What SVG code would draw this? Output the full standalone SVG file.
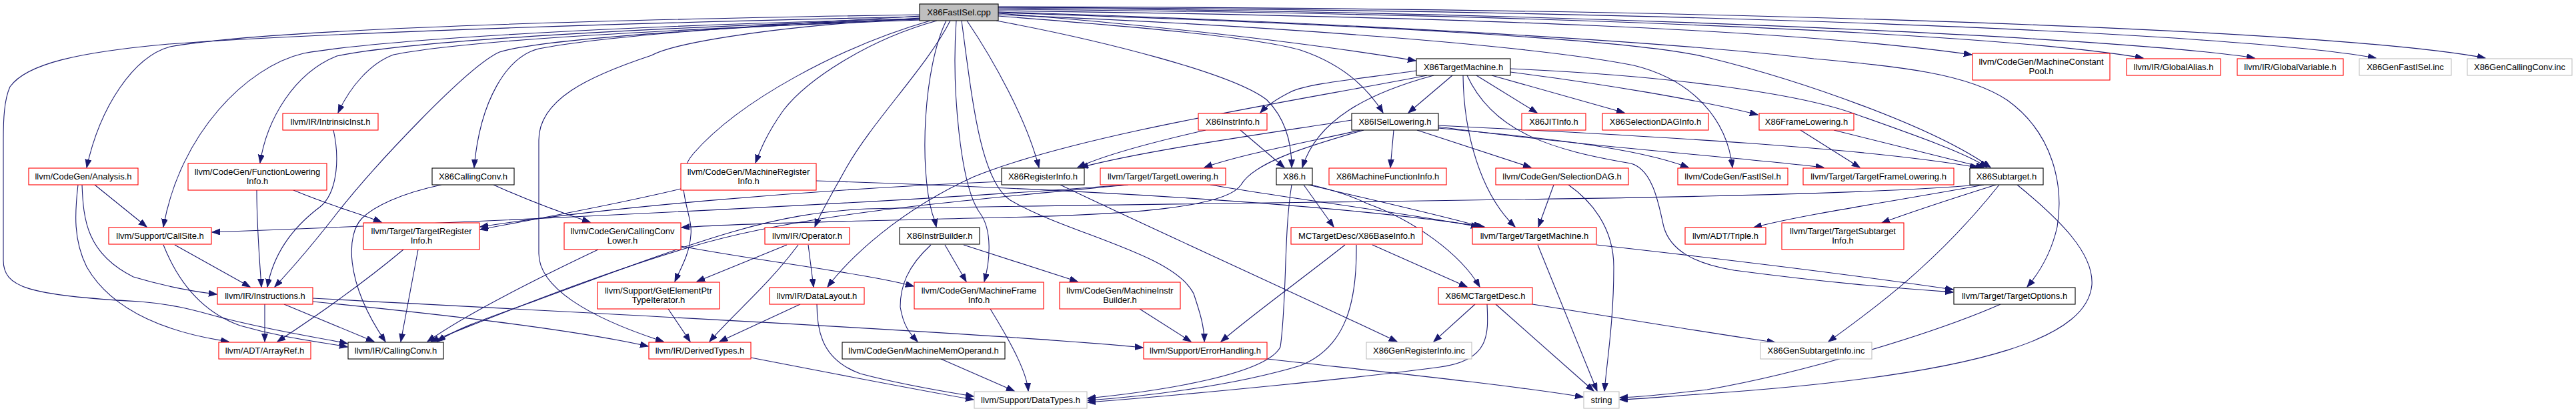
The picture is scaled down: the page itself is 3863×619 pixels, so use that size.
<svg xmlns="http://www.w3.org/2000/svg" width="3863" height="619" viewBox="0 0 3863 619">
<style>
.e path{fill:none;stroke:#191970;stroke-width:1.1;marker-end:url(#a)}
rect{fill:#fff;stroke-width:1.1}
.r rect{stroke:#ff0000}
.k rect{stroke:#000}
.g rect{stroke:#bfbfbf}
text{font-family:"Liberation Sans",Arial,sans-serif;font-size:13px;text-anchor:middle;fill:#000}
</style>
<defs>
<marker id="a" markerWidth="14" markerHeight="10" refX="12" refY="4.5" orient="auto" markerUnits="userSpaceOnUse"><path d="M0,0 L12,4.5 L0,9 z" fill="#191970" stroke="#191970" stroke-width="1"/></marker>
</defs>
<rect width="3863" height="619" style="fill:#fff;stroke:none"/>
<g id="edges" class="e">
<path d="M1379,22 C1000,28 420,40 255,70 C200,85 150,160 130,251"/>
<path d="M1379,25 C1000,33 500,48 253,66 C120,78 40,95 15,130 C6,150 5,180 5,210 L5,390 C5,430 40,443 210,452 C270,457 300,468 340,478 C420,498 480,506 521,515"/>
<path d="M1379,28 C950,38 580,58 455,80 C370,100 270,200 245,340"/>
<path d="M1379,29 C1000,40 620,60 505,84 C440,110 400,180 390,244"/>
<path d="M1380,30 C1000,44 700,60 590,82 C555,95 525,130 507,169"/>
<path d="M1380,28 C1000,45 800,62 749,78 C700,100 560,250 505,320 C470,365 440,400 412,430"/>
<path d="M1380,24 C1100,40 900,55 808,73 C760,85 720,150 711,251"/>
<path d="M1405,31 C1300,60 1210,120 1175,165 C1150,200 1140,225 1133,244"/>
<path d="M1380,27 C1150,40 1010,65 977,83 C880,115 808,150 808,210 L808,380 C808,430 880,475 995,512"/>
<path d="M1395,31 C1260,70 1110,150 1040,230 C1005,270 1040,320 1036,352 C1034,380 1022,400 1012,422"/>
<path d="M1425,31 C1390,100 1310,180 1270,250 C1245,295 1230,320 1222,340"/>
<path d="M1419,31 C1385,100 1378,250 1398,320 C1402,330 1403,335 1404,340"/>
<path d="M1434,31 C1427,133 1440,280 1470,320 C1488,345 1485,390 1476,422"/>
<path d="M1442,31 C1458,150 1470,270 1515,300 C1600,350 1760,380 1790,440 C1800,470 1806,490 1806,512"/>
<path d="M1450,31 C1490,90 1540,180 1558,251"/>
<path d="M1494,31 C1650,60 1850,110 1900,150 C1930,180 1937,220 1937,251"/>
<path d="M1497,24 C1700,40 1880,55 1950,75 C2010,95 2050,130 2074,169"/>
<path d="M1497,20 C1700,35 1950,62 2123,91"/>
<path d="M1497,22 C1900,38 2300,68 2450,98 C2540,120 2590,180 2598,251"/>
<path d="M1497,19 C2000,35 2450,58 2560,86 C2700,120 2900,190 2985,251"/>
<path d="M1497,18 C2000,33 2500,62 2720,88 C2850,100 2950,110 3010,150 C3080,200 3095,280 3085,340 C3076,380 3057,410 3040,430"/>
<path d="M1497,16 C2200,25 2700,45 2957,82"/>
<path d="M1497,14 C2300,20 3000,50 3214,87"/>
<path d="M1497,12 C2400,18 3200,58 3381,87"/>
<path d="M1497,11 C2500,15 3350,48 3563,87"/>
<path d="M1497,10 C2600,12 3500,44 3727,87"/>
<path d="M2124,106 C2040,118 1960,125 1935,138 C1915,148 1900,158 1890,169"/>
<path d="M2140,113 C1950,150 1620,200 1460,265 C1350,315 1275,385 1241,430"/>
<path d="M2178,113 L2112,169"/>
<path d="M2150,113 C2050,140 1975,180 1953,251"/>
<path d="M2214,113 L2305,169"/>
<path d="M2237,113 L2436,169"/>
<path d="M2194,113 C2195,200 2220,290 2272,340"/>
<path d="M2265,108 C2400,125 2550,150 2636,172"/>
<path d="M2265,103 C2500,113 2700,140 2785,172 C2870,202 2950,230 2980,251"/>
<path d="M2200,113 C2240,200 2330,225 2446,245 C2480,255 2488,310 2495,340 C2505,375 2540,395 2600,405 C2750,425 2850,432 2929,438"/>
<path d="M2027,180 C1900,200 1720,225 1620,251"/>
<path d="M2040,195 C1950,215 1860,232 1806,251"/>
<path d="M2045,195 C1950,222 1880,245 1861,277 C1840,310 1700,322 1500,326 C1300,331 1100,335 1022,341"/>
<path d="M2090,195 L2085,251"/>
<path d="M2125,195 L2296,251"/>
<path d="M2157,192 C2300,205 2450,220 2532,251"/>
<path d="M2157,188 C2500,205 2800,222 2966,251"/>
<path d="M2157,190 C2400,222 2600,235 2735,251"/>
<path d="M1808,195 C1720,215 1650,235 1616,251"/>
<path d="M1860,195 L1926,251"/>
<path d="M2700,195 L2789,251"/>
<path d="M2750,195 L2975,251"/>
<path d="M662,277 C600,290 560,310 543,327 C520,350 515,420 578,512"/>
<path d="M740,277 C780,295 830,315 885,333"/>
<path d="M142,277 L220,340"/>
<path d="M123,277 C125,330 130,380 200,415 C250,430 290,437 325,441"/>
<path d="M117,277 C112,320 110,360 130,400 C170,470 260,500 343,512"/>
<path d="M385,285 C385,340 390,400 392,430"/>
<path d="M440,285 C500,310 540,320 572,333"/>
<path d="M500,195 C510,240 505,290 480,310 C440,340 410,380 401,430"/>
<path d="M262,367 L375,430"/>
<path d="M245,367 C270,430 310,470 360,488 C430,508 480,512 521,520"/>
<path d="M605,374 C550,420 480,470 416,512"/>
<path d="M627,374 L601,512"/>
<path d="M397,456 L397,512"/>
<path d="M426,456 L561,512"/>
<path d="M469,452 C650,470 850,492 972,519"/>
<path d="M469,447 C900,470 1500,500 1714,521"/>
<path d="M897,374 C800,420 700,470 641,512"/>
<path d="M1021,369 C1150,393 1300,410 1370,429"/>
<path d="M1180,367 L1045,422"/>
<path d="M1212,367 L1220,430"/>
<path d="M1197,367 C1150,430 1100,470 1064,512"/>
<path d="M1002,463 L1035,512"/>
<path d="M1200,456 L1079,512"/>
<path d="M1225,456 C1225,500 1235,540 1290,560 C1350,576 1410,586 1460,594"/>
<path d="M1126,536 C1250,560 1380,585 1460,599"/>
<path d="M1021,283 C950,300 850,320 720,344"/>
<path d="M1224,271 C1600,283 2000,305 2226,340"/>
<path d="M1502,272 C1200,285 900,312 720,340"/>
<path d="M1590,277 C1700,330 1900,420 2095,512"/>
<path d="M1688,277 C1400,300 800,330 318,348"/>
<path d="M1692,277 C1450,300 1200,320 1036,370 C900,410 750,470 646,512"/>
<path d="M1815,277 C1950,300 2100,318 2218,340"/>
<path d="M1955,277 L2000,340"/>
<path d="M1966,277 C2000,285 2030,295 2050,305 C2120,330 2190,380 2219,430"/>
<path d="M1962,277 C2050,298 2150,320 2222,340"/>
<path d="M1937,277 C1925,350 1930,450 1920,520 C1900,560 1750,585 1631,597"/>
<path d="M2058,367 L2200,430"/>
<path d="M2017,367 C1950,420 1880,470 1831,512"/>
<path d="M2034,367 C2035,450 2020,520 1950,548 C1850,578 1720,594 1631,600"/>
<path d="M2212,456 L2150,512"/>
<path d="M2243,456 L2390,586"/>
<path d="M2230,456 C2232,500 2235,540 2160,550 C2050,565 1800,590 1631,603"/>
<path d="M2298,456 C2450,480 2600,505 2662,513"/>
<path d="M2306,367 L2395,586"/>
<path d="M2394,367 C2600,390 2800,415 2929,434"/>
<path d="M2330,277 L2307,340"/>
<path d="M2352,277 C2385,300 2420,340 2420,400 C2420,480 2410,540 2406,586"/>
<path d="M1900,538 C2050,555 2250,575 2374,595"/>
<path d="M2975,277 C2850,300 2700,322 2630,341"/>
<path d="M2993,277 C2920,300 2860,320 2822,334"/>
<path d="M2998,277 C2900,400 2800,470 2742,512"/>
<path d="M3025,277 C3090,330 3140,380 3137,427 C3130,500 3000,560 2560,590 C2500,594 2460,598 2429,599"/>
<path d="M2968,277 C2700,300 2000,300 1300,313 C1150,320 1050,360 800,452 C720,480 680,495 656,512"/>
<path d="M3000,456 C2900,500 2700,560 2560,584 C2500,591 2460,595 2429,596"/>
<path d="M1485,463 C1520,520 1540,560 1542,586"/>
<path d="M1417,367 L1449,422"/>
<path d="M1445,367 L1616,422"/>
<path d="M1396,367 C1360,400 1350,430 1350,460 C1355,490 1365,500 1376,512"/>
<path d="M1709,463 L1786,512"/>
<path d="M1411,538 L1521,586"/>
</g>
<g id="root" class="k"><rect x="1379" y="6" width="118" height="25" style="fill:#bfbfbf"/><text x="1438" y="23">X86FastISel.cpp</text></g>
<g id="tm" class="k"><rect x="2124" y="88" width="141" height="25"/><text x="2194.5" y="105">X86TargetMachine.h</text></g>
<g id="mcp" class="r"><rect x="2958" y="80" width="206" height="40"/><text x="3061" y="97">llvm/CodeGen/MachineConstant</text><text x="3061" y="111">Pool.h</text></g>
<g id="galias" class="r"><rect x="3189" y="88" width="141" height="25"/><text x="3259.5" y="105">llvm/IR/GlobalAlias.h</text></g>
<g id="gvar" class="r"><rect x="3355" y="88" width="159" height="25"/><text x="3434.5" y="105">llvm/IR/GlobalVariable.h</text></g>
<g id="genfast" class="g"><rect x="3538" y="88" width="138" height="25"/><text x="3607" y="105">X86GenFastISel.inc</text></g>
<g id="gencc" class="g"><rect x="3700" y="88" width="157" height="25"/><text x="3778.5" y="105">X86GenCallingConv.inc</text></g>
<g id="intr" class="r"><rect x="424" y="170" width="143" height="25"/><text x="495.5" y="187">llvm/IR/IntrinsicInst.h</text></g>
<g id="instrinfo" class="r"><rect x="1797" y="170" width="103" height="25"/><text x="1848.5" y="187">X86InstrInfo.h</text></g>
<g id="isel" class="k"><rect x="2027" y="170" width="130" height="25"/><text x="2092" y="187">X86ISelLowering.h</text></g>
<g id="jit" class="r"><rect x="2282" y="170" width="96" height="25"/><text x="2330" y="187">X86JITInfo.h</text></g>
<g id="sdaginfo" class="r"><rect x="2403" y="170" width="159" height="25"/><text x="2482.5" y="187">X86SelectionDAGInfo.h</text></g>
<g id="frame" class="r"><rect x="2638" y="170" width="142" height="25"/><text x="2709" y="187">X86FrameLowering.h</text></g>
<g id="analysis" class="r"><rect x="43" y="252" width="164" height="25"/><text x="125" y="269">llvm/CodeGen/Analysis.h</text></g>
<g id="fli" class="r"><rect x="282" y="245" width="208" height="40"/><text x="386" y="262">llvm/CodeGen/FunctionLowering</text><text x="386" y="276">Info.h</text></g>
<g id="x86cc" class="k"><rect x="648" y="252" width="123" height="25"/><text x="709.5" y="269">X86CallingConv.h</text></g>
<g id="mri" class="r"><rect x="1021" y="245" width="203" height="40"/><text x="1122.5" y="262">llvm/CodeGen/MachineRegister</text><text x="1122.5" y="276">Info.h</text></g>
<g id="x86ri" class="k"><rect x="1502" y="252" width="124" height="25"/><text x="1564" y="269">X86RegisterInfo.h</text></g>
<g id="tl" class="r"><rect x="1650" y="252" width="188" height="25"/><text x="1744" y="269">llvm/Target/TargetLowering.h</text></g>
<g id="x86h" class="k"><rect x="1914" y="252" width="54" height="25"/><text x="1941" y="269">X86.h</text></g>
<g id="mfi" class="r"><rect x="1993" y="252" width="176" height="25"/><text x="2081" y="269">X86MachineFunctionInfo.h</text></g>
<g id="sdag" class="r"><rect x="2243" y="252" width="199" height="25"/><text x="2342.5" y="269">llvm/CodeGen/SelectionDAG.h</text></g>
<g id="fastisel" class="r"><rect x="2516" y="252" width="165" height="25"/><text x="2598.5" y="269">llvm/CodeGen/FastISel.h</text></g>
<g id="tfl" class="r"><rect x="2704" y="252" width="226" height="25"/><text x="2817" y="269">llvm/Target/TargetFrameLowering.h</text></g>
<g id="subtarget" class="k"><rect x="2954" y="252" width="110" height="25"/><text x="3009" y="269">X86Subtarget.h</text></g>
<g id="callsite" class="r"><rect x="163" y="341" width="154" height="25"/><text x="240" y="358">llvm/Support/CallSite.h</text></g>
<g id="tri" class="r"><rect x="545" y="334" width="174" height="40"/><text x="632" y="351">llvm/Target/TargetRegister</text><text x="632" y="365">Info.h</text></g>
<g id="ccl" class="r"><rect x="846" y="334" width="175" height="40"/><text x="933.5" y="351">llvm/CodeGen/CallingConv</text><text x="933.5" y="365">Lower.h</text></g>
<g id="operator" class="r"><rect x="1147" y="341" width="127" height="25"/><text x="1210.5" y="358">llvm/IR/Operator.h</text></g>
<g id="instrbuilder" class="k"><rect x="1349" y="341" width="120" height="25"/><text x="1409" y="358">X86InstrBuilder.h</text></g>
<g id="baseinfo" class="r"><rect x="1936" y="341" width="197" height="25"/><text x="2034.5" y="358">MCTargetDesc/X86BaseInfo.h</text></g>
<g id="tmach" class="r"><rect x="2208" y="341" width="186" height="25"/><text x="2301" y="358">llvm/Target/TargetMachine.h</text></g>
<g id="triple" class="r"><rect x="2527" y="341" width="121" height="25"/><text x="2587.5" y="358">llvm/ADT/Triple.h</text></g>
<g id="tsi" class="r"><rect x="2672" y="334" width="183" height="40"/><text x="2763.5" y="351">llvm/Target/TargetSubtarget</text><text x="2763.5" y="365">Info.h</text></g>
<g id="instructions" class="r"><rect x="326" y="431" width="143" height="25"/><text x="397.5" y="448">llvm/IR/Instructions.h</text></g>
<g id="gep" class="r"><rect x="896" y="423" width="183" height="40"/><text x="987.5" y="440">llvm/Support/GetElementPtr</text><text x="987.5" y="454">TypeIterator.h</text></g>
<g id="dl" class="r"><rect x="1154" y="431" width="142" height="25"/><text x="1225" y="448">llvm/IR/DataLayout.h</text></g>
<g id="mframe" class="r"><rect x="1371" y="423" width="194" height="40"/><text x="1468" y="440">llvm/CodeGen/MachineFrame</text><text x="1468" y="454">Info.h</text></g>
<g id="mib" class="r"><rect x="1589" y="423" width="181" height="40"/><text x="1679.5" y="440">llvm/CodeGen/MachineInstr</text><text x="1679.5" y="454">Builder.h</text></g>
<g id="mctd" class="r"><rect x="2157" y="431" width="141" height="25"/><text x="2227.5" y="448">X86MCTargetDesc.h</text></g>
<g id="topt" class="k"><rect x="2930" y="431" width="182" height="25"/><text x="3021" y="448">llvm/Target/TargetOptions.h</text></g>
<g id="arrayref" class="r"><rect x="328" y="513" width="138" height="25"/><text x="397" y="530">llvm/ADT/ArrayRef.h</text></g>
<g id="cc" class="k"><rect x="522" y="513" width="143" height="25"/><text x="593.5" y="530">llvm/IR/CallingConv.h</text></g>
<g id="derived" class="r"><rect x="973" y="513" width="153" height="25"/><text x="1049.5" y="530">llvm/IR/DerivedTypes.h</text></g>
<g id="mmo" class="k"><rect x="1263" y="513" width="244" height="25"/><text x="1385" y="530">llvm/CodeGen/MachineMemOperand.h</text></g>
<g id="eh" class="r"><rect x="1715" y="513" width="185" height="25"/><text x="1807.5" y="530">llvm/Support/ErrorHandling.h</text></g>
<g id="genri" class="g"><rect x="2049" y="513" width="158" height="25"/><text x="2128" y="530">X86GenRegisterInfo.inc</text></g>
<g id="gensti" class="g"><rect x="2640" y="513" width="167" height="25"/><text x="2723.5" y="530">X86GenSubtargetInfo.inc</text></g>
<g id="datatypes" class="g"><rect x="1461" y="587" width="169" height="25"/><text x="1545.5" y="604">llvm/Support/DataTypes.h</text></g>
<g id="string" class="g"><rect x="2375" y="587" width="53" height="25"/><text x="2401.5" y="604">string</text></g>
</svg>
